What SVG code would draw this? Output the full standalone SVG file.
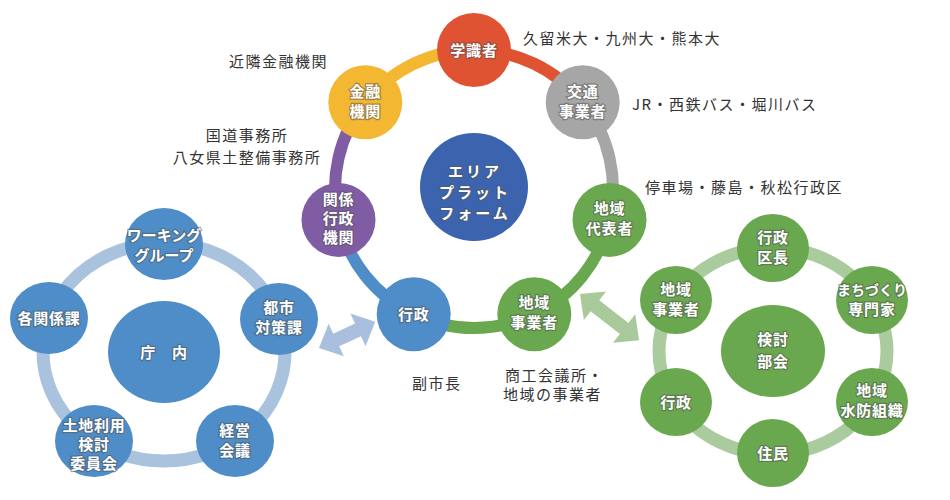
<svg xmlns="http://www.w3.org/2000/svg" width="950" height="500" viewBox="0 0 950 500">
<style>
.lbl{font-family:"Noto Sans CJK JP","Noto Sans",sans-serif;font-size:15px;letter-spacing:0.8px;font-weight:bold;fill:#fff;stroke:#555;stroke-opacity:0.55;stroke-width:2.4;paint-order:stroke;text-anchor:middle}
.note{font-family:"Noto Sans CJK JP","Noto Sans",sans-serif;font-size:15px;fill:#333;letter-spacing:1.5px}
.arc{fill:none;stroke-width:12}
.lb{fill:#4E8DC7}
.gn{fill:#6AA84F}
</style>
<rect width="950" height="500" fill="#fff"/>

<!-- connectors / rings -->
<g id="connectors">
  <ellipse cx="164" cy="352" rx="121" ry="109" fill="none" stroke="#A9C2DE" stroke-width="13"/>
  <ellipse cx="773" cy="351" rx="114" ry="103" fill="none" stroke="#AACB9D" stroke-width="13"/>
  <path class="arc" stroke="#E05332" d="M474,50 A139,139 0 0 1 582.67,102.33"/>
  <path class="arc" stroke="#A6A6A6" d="M582.67,102.33 A139,139 0 0 1 609.52,219.93"/>
  <path class="arc" stroke="#6AA84F" d="M609.52,219.93 A139,139 0 0 1 534.31,314.23"/>
  <path class="arc" stroke="#6AA84F" d="M534.31,314.23 A139,139 0 0 1 413.69,314.23"/>
  <path class="arc" stroke="#4E8DC7" d="M413.69,314.23 A139,139 0 0 1 338.48,219.93"/>
  <path class="arc" stroke="#7F5CA4" d="M338.48,219.93 A139,139 0 0 1 365.33,102.33"/>
  <path class="arc" stroke="#F4B731" d="M365.33,102.33 A139,139 0 0 1 474,50"/>
  <polygon fill="#A9BFDD" transform="translate(319,348) rotate(-25)" points="0,0 19,-18 19,-7 43,-7 43,-18 62,0 43,18 43,7 19,7 19,18"/>
  <polygon fill="#A8C99A" transform="translate(580,294) rotate(38)" points="0,0 19,-18 19,-7 56,-7 56,-18 75,0 56,18 56,7 19,7 19,18"/>
</g>

<!-- central ring -->
<g id="n-center"><circle cx="474" cy="187" r="54" fill="#3C64AE"/>
  <text class="lbl" style="letter-spacing:3px"><tspan x="475" y="177">エリア</tspan><tspan x="475" y="198">プラット</tspan><tspan x="475" y="219">フォーム</tspan></text></g>
<g id="n-gakushiki"><circle cx="474" cy="50" r="37" fill="#E05332"/>
  <text class="lbl" x="474" y="56">学識者</text></g>
<g id="n-kotsu"><circle cx="582.7" cy="102.3" r="37" fill="#A6A6A6"/>
  <text class="lbl"><tspan x="582.7" y="97">交通</tspan><tspan x="582.7" y="117">事業者</tspan></text></g>
<g id="n-chiikidaihyo"><circle cx="609.5" cy="219.9" r="37" fill="#6AA84F"/>
  <text class="lbl"><tspan x="609.5" y="214">地域</tspan><tspan x="609.5" y="234">代表者</tspan></text></g>
<g id="n-chiikijigyo"><circle cx="534.3" cy="314.2" r="37" fill="#6AA84F"/>
  <text class="lbl"><tspan x="534.3" y="308">地域</tspan><tspan x="534.3" y="328">事業者</tspan></text></g>
<g id="n-gyosei"><circle cx="413.7" cy="314.2" r="37" fill="#4E8DC7"/>
  <text class="lbl" x="413.7" y="320">行政</text></g>
<g id="n-kankei"><circle cx="338.5" cy="219.9" r="37" fill="#7F5CA4"/>
  <text class="lbl"><tspan x="338.5" y="205">関係</tspan><tspan x="338.5" y="224">行政</tspan><tspan x="338.5" y="243">機関</tspan></text></g>
<g id="n-kinyu"><circle cx="365.3" cy="102.3" r="37" fill="#F4B731"/>
  <text class="lbl"><tspan x="365.3" y="97">金融</tspan><tspan x="365.3" y="117">機関</tspan></text></g>

<!-- left ring -->
<g id="n-chonai"><ellipse cx="164" cy="352" rx="56" ry="51" class="lb"/>
  <text class="lbl" x="164" y="358" xml:space="preserve">庁　内</text></g>
<g id="n-working"><ellipse cx="164" cy="244" rx="39" ry="36" class="lb"/>
  <text class="lbl" style="letter-spacing:0"><tspan x="164" y="241">ワーキング</tspan><tspan x="164" y="261">グループ</tspan></text></g>
<g id="n-toshi"><ellipse cx="279" cy="319" rx="39" ry="36" class="lb"/>
  <text class="lbl"><tspan x="279" y="313">都市</tspan><tspan x="279" y="333">対策課</tspan></text></g>
<g id="n-kakukankei"><ellipse cx="49" cy="318" rx="39" ry="36" class="lb"/>
  <text class="lbl" x="49" y="324">各関係課</text></g>
<g id="n-tochi"><ellipse cx="94" cy="441" rx="39" ry="36" class="lb"/>
  <text class="lbl"><tspan x="94" y="431">土地利用</tspan><tspan x="94" y="450">検討</tspan><tspan x="94" y="469">委員会</tspan></text></g>
<g id="n-keiei"><ellipse cx="235" cy="441" rx="39" ry="36" class="lb"/>
  <text class="lbl"><tspan x="235" y="436">経営</tspan><tspan x="235" y="456">会議</tspan></text></g>

<!-- right ring -->
<g id="n-kento"><ellipse cx="773" cy="351" rx="52" ry="46" class="gn"/>
  <text class="lbl"><tspan x="773" y="345">検討</tspan><tspan x="773" y="367">部会</tspan></text></g>
<g id="n-kucho"><ellipse cx="773" cy="248" rx="36" ry="34" class="gn"/>
  <text class="lbl"><tspan x="773" y="243">行政</tspan><tspan x="773" y="263">区長</tspan></text></g>
<g id="n-machi"><ellipse cx="872" cy="300" rx="36" ry="34" class="gn"/>
  <text class="lbl"><tspan x="872" y="295" style="font-size:14px;letter-spacing:0">まちづくり</tspan><tspan x="872" y="315">専門家</tspan></text></g>
<g id="n-suibo"><ellipse cx="872" cy="402" rx="36" ry="34" class="gn"/>
  <text class="lbl"><tspan x="872" y="396">地域</tspan><tspan x="872" y="416">水防組織</tspan></text></g>
<g id="n-jumin"><ellipse cx="773" cy="453" rx="36" ry="34" class="gn"/>
  <text class="lbl" x="773" y="459">住民</text></g>
<g id="n-gyosei2"><ellipse cx="676" cy="402" rx="36" ry="34" class="gn"/>
  <text class="lbl" x="676" y="408">行政</text></g>
<g id="n-jigyosha2"><ellipse cx="676" cy="300" rx="36" ry="34" class="gn"/>
  <text class="lbl"><tspan x="676" y="295">地域</tspan><tspan x="676" y="315">事業者</tspan></text></g>

<!-- annotations -->
<g id="notes">
  <text class="note" x="229" y="67">近隣金融機関</text>
  <text class="note" text-anchor="middle"><tspan x="247" y="141">国道事務所</tspan><tspan x="247" y="163">八女県土整備事務所</tspan></text>
  <text class="note" x="523" y="44">久留米大・九州大・熊本大</text>
  <text class="note" x="632" y="110">JR・西鉄バス・堀川バス</text>
  <text class="note" x="645" y="193">停車場・藤島・秋松行政区</text>
  <text class="note" x="412" y="389">副市長</text>
  <text class="note"><tspan x="505" y="381">商工会議所・</tspan><tspan x="503" y="400">地域の事業者</tspan></text>
</g>
</svg>
